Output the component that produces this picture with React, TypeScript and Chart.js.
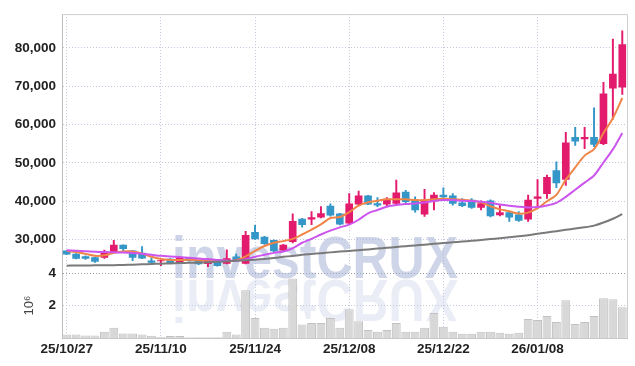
import React, { useEffect, useRef } from 'react';
import { Chart, registerables } from 'chart.js';
Chart.register(...registerables);

const dates = [
  '25/10/27','25/10/28','25/10/29','25/10/30','25/10/31','25/11/03','25/11/04','25/11/05','25/11/06','25/11/07',
  '25/11/10','25/11/11','25/11/12','25/11/13','25/11/14','25/11/17','25/11/18','25/11/19','25/11/20','25/11/21',
  '25/11/24','25/11/25','25/11/26','25/11/27','25/11/28','25/12/01','25/12/02','25/12/03','25/12/04','25/12/05',
  '25/12/08','25/12/09','25/12/10','25/12/11','25/12/12','25/12/15','25/12/16','25/12/17','25/12/18','25/12/19',
  '25/12/22','25/12/23','25/12/24','25/12/26','25/12/29','25/12/30','26/01/02','26/01/05','26/01/06','26/01/07',
  '26/01/08','26/01/09','26/01/12','26/01/13','26/01/14','26/01/15','26/01/16','26/01/19','26/01/20','26/01/21',
];

const opens = [
  27000,26150,25540,25280,25280,26560,28540,27000,26410,24440,
  24360,24870,24000,25130,24440,23670,24690,23750,25460,23750,
  31870,30590,29740,27180,29390,35280,35280,35800,38720,36670,
  34260,39230,41360,39380,39230,39380,42380,40260,36560,40080,
  41540,41360,39560,40260,38360,40080,36410,37000,36410,35280,
  40670,41950,47950,45640,56670,56230,56670,55020,69490,69740,
];
const highs = [
  27100,26300,25700,25400,27250,29740,28600,27100,28150,25200,
  24600,25000,25500,25300,24600,25000,24800,27260,26150,32130,
  33670,30800,29900,28700,36670,35500,37260,38540,39300,36800,
  41950,42640,41500,40900,40900,45460,42820,41100,43080,42200,
  43490,41950,40670,40670,40080,40300,38970,37100,37260,41540,
  45640,46820,50260,57950,59230,59230,64360,71020,82310,84430,
];
const lows = [
  26000,24900,24800,24000,25030,26500,26750,24430,25000,23600,
  23150,23700,23900,24300,23400,22900,23000,23600,24300,23600,
  30000,28700,26700,26900,29100,33200,33850,35600,36100,33800,
  34000,39000,39100,38540,38540,39100,39600,37080,35970,37690,
  40670,38970,38540,38100,37690,35900,36150,34700,34700,34700,
  38100,40670,43490,44100,54510,53670,54180,54700,61350,67850,
];
const closes = [
  26150,25030,25030,24260,26740,28540,27590,25280,25130,24000,
  24500,23850,25280,24510,23590,24870,23150,25030,24440,31100,
  30150,28870,27000,28540,34690,33850,35720,36740,36300,34000,
  39300,41360,39230,38970,40510,42130,39820,37690,40080,41540,
  41100,39380,38800,38360,39380,36150,37000,35800,34950,40260,
  41100,46230,44770,55200,55640,56670,54770,68020,73150,80850,
];
const volumes = [
  220000,220000,160000,160000,390000,630000,280000,280000,220000,140000,
  60000,120000,120000,50000,40000,50000,40000,390000,210000,2950000,
  1230000,630000,570000,630000,3670000,830000,930000,930000,1230000,630000,
  1780000,1030000,500000,390000,500000,930000,390000,390000,630000,1540000,
  690000,390000,270000,270000,390000,390000,330000,270000,330000,1180000,
  1110000,1360000,990000,2330000,870000,990000,1360000,2450000,2390000,1900000,
];
const maShort = [
  27000,26740,26230,25720,25850,26490,26870,26820,26310,25460,
  24870,24620,24620,24690,24570,24440,24360,24360,24570,25590,
  27000,28280,29130,29560,30150,31280,32560,33920,35590,35850,
  37130,38800,39690,40080,40460,40510,40460,40260,40260,40460,
  40590,40510,40330,40080,39690,38670,37850,37330,36740,37000,
  38150,39950,41620,45590,48790,51870,53540,57770,61610,66900,
];
const maMid = [
  27180,27050,26920,26800,26690,26620,26560,26440,26230,25980,
  25720,25540,25390,25210,25000,24820,24620,24490,24440,24820,
  25460,25980,26490,26870,27690,29130,30150,31280,32310,33150,
  33850,35130,36820,37690,38540,38970,39230,39380,39640,40000,
  40260,40260,40080,40000,39820,39560,39130,38800,38540,38360,
  38460,38870,39560,41100,42970,44820,46670,50080,53490,57770,
];
const maLong = [
  23150,23180,23200,23230,23260,23290,23350,23420,23500,23580,
  23660,23740,23820,23900,23970,24050,24150,24280,24420,24550,
  24700,24900,25150,25450,25700,25980,26200,26420,26620,26820,
  27000,27200,27400,27600,27800,28030,28230,28430,28630,28840,
  29050,29250,29450,29650,29850,30080,30300,30550,30800,31100,
  31480,31800,32150,32500,32850,33150,33600,34400,35400,36600,
];
const priceTicks = [30000, 40000, 50000, 60000, 70000, 80000];
const volumeTicks = [2000000, 4000000];

const UP = '#e31b6d';
const DOWN = '#3596c8';
const FONT = '"Liberation Sans", Arial, sans-serif';
const GRID = '#c3c8dc';

const watermark = {
  id: 'watermark',
  beforeDatasetsDraw(chart: any) {
    const { ctx } = chart;
    const x0 = 172;
    const base = 278;
    ctx.save();
    ctx.font = `bold 60px ${FONT}`;
    ctx.textBaseline = 'alphabetic';
    const w = ctx.measureText('investCRUX').width;
    const sx = 286 / w;
    ctx.translate(x0, base);
    ctx.scale(sx, 1);
    ctx.fillStyle = 'rgba(168,178,214,0.55)';
    ctx.fillText('investCRUX', 0, 0);
    ctx.scale(1, -1);
    ctx.fillStyle = 'rgba(198,204,230,0.35)';
    ctx.fillText('investCRUX', 0, -2);
    ctx.restore();
  },
};

const frame = {
  id: 'frame',
  afterDraw(chart: any) {
    const { ctx, chartArea } = chart;
    ctx.save();
    ctx.strokeStyle = '#cfcfcf';
    ctx.lineWidth = 1;
    ctx.beginPath();
    ctx.moveTo(chartArea.left, chartArea.top + 0.5);
    ctx.lineTo(chartArea.right + 0.5, chartArea.top + 0.5);
    ctx.lineTo(chartArea.right + 0.5, chartArea.bottom);
    ctx.stroke();
    ctx.restore();
  },
};

export default function App() {
  const ref = useRef<HTMLCanvasElement>(null);
  useEffect(() => {
    if (!ref.current) return;
    const bodies = opens.map((o, i) => [Math.min(o, closes[i]), Math.max(o, closes[i])]);
    const wicks = lows.map((l, i) => [l, highs[i]]);
    const colors = opens.map((o, i) => (closes[i] >= o ? UP : DOWN));
    const tickFont = { family: FONT, size: 13.5, weight: 'bold' };
    const chart = new Chart(ref.current, {
      type: 'bar',
      data: {
        labels: dates,
        datasets: [
          { type: 'line', data: maLong, yAxisID: 'y', borderColor: '#7a7a7a', borderWidth: 2, pointRadius: 0, tension: 0.3, order: 0 } as any,
          { type: 'line', data: maMid, yAxisID: 'y', borderColor: '#cc55ee', borderWidth: 2, pointRadius: 0, tension: 0.3, order: 0 } as any,
          { type: 'line', data: maShort, yAxisID: 'y', borderColor: '#f08548', borderWidth: 2, pointRadius: 0, tension: 0.3, order: 0 } as any,
          { type: 'bar', data: bodies, yAxisID: 'y', backgroundColor: colors, borderColor: colors, borderWidth: 0, barThickness: 7, grouped: false, order: 1 } as any,
          { type: 'bar', data: wicks, yAxisID: 'y', backgroundColor: colors, borderWidth: 0, barThickness: 1.3, grouped: false, order: 2 } as any,
          { type: 'bar', data: volumes, yAxisID: 'yv', backgroundColor: '#d8d8d8', borderColor: '#c2c2c2', borderWidth: 1, barPercentage: 1, categoryPercentage: 0.94, grouped: false, order: 3 } as any,
        ],
      },
      options: {
        responsive: false,
        animation: false,
        devicePixelRatio: 1,
        layout: { padding: { top: 9, right: 8, left: 0, bottom: 0 } },
        plugins: { legend: { display: false }, tooltip: { enabled: false } },
        scales: {
          x: {
            offset: true,
            grid: {
              offset: false,
              drawTicks: false,
              color: (c: any) => (c.index % 10 === 0 ? GRID : 'rgba(0,0,0,0)'),
            },
            border: { display: true, color: '#c8c8c8', dash: [1, 2] },
            ticks: {
              autoSkip: false,
              maxRotation: 0,
              padding: 3,
              color: '#222',
              font: tickFont,
              callback: (_v: any, i: number) => (i % 10 === 0 ? dates[i] : ''),
            },
            afterFit: (s: any) => { s.height = 28; },
          },
          yv: {
            position: 'left',
            stack: 'panes',
            stackWeight: 1,
            min: 0,
            max: 4000000,
            grid: {
              drawTicks: false,
              color: (c: any) => (c.tick && c.tick.value === 4000000 ? '#9a9a9a' : GRID),
            },
            border: { display: true, color: '#bdbdbd', dash: [1, 2] },
            title: {
              display: true,
              text: '10⁶',
              color: '#444',
              font: { family: FONT, size: 13 },
              padding: { top: 22, bottom: 0 },
            },
            ticks: {
              padding: 6,
              color: '#222',
              font: tickFont,
              callback: (v: any) => String(Number(v) / 1000000),
            },
            afterBuildTicks: (s: any) => { s.ticks = volumeTicks.map((v) => ({ value: v })); },
            afterFit: (s: any) => { s.width = 62; },
          },
          y: {
            position: 'left',
            stack: 'panes',
            stackWeight: 4,
            min: 21180,
            max: 88800,
            grid: { drawTicks: false, color: GRID },
            border: { display: true, color: '#bdbdbd', dash: [1, 2] },
            ticks: {
              padding: 6,
              color: '#222',
              font: tickFont,
              callback: (v: any) => Number(v).toLocaleString('en-US'),
            },
            afterBuildTicks: (s: any) => { s.ticks = priceTicks.map((v) => ({ value: v })); },
            afterFit: (s: any) => { s.width = 62; },
          },
        },
      } as any,
      plugins: [watermark, frame],
    });
    return () => chart.destroy();
  }, []);
  return (
    <div style={{ position: 'fixed', left: 0, top: 0, width: 635, height: 366, background: '#fff' }}>
      <canvas ref={ref} width={635} height={366} />
    </div>
  );
}
